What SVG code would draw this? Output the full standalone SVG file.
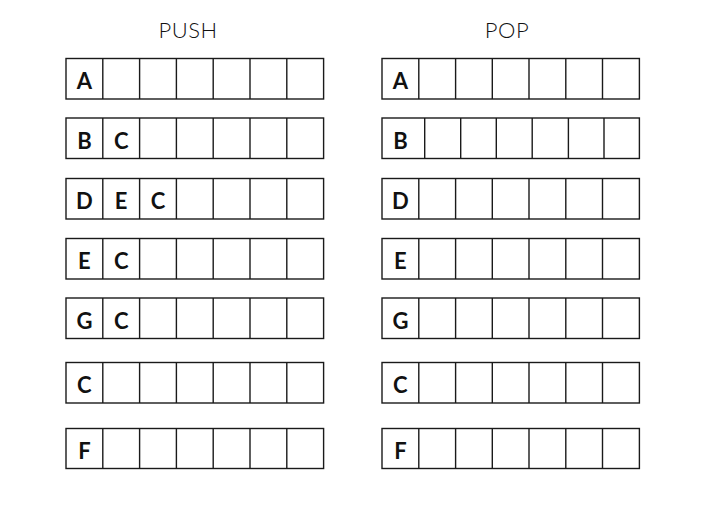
<svg xmlns="http://www.w3.org/2000/svg" width="721" height="523" viewBox="0 0 721 523">
<style>
.box{fill:#fff;stroke:#1a1a1a;stroke-width:1.4}
.div{fill:none;stroke:#1a1a1a;stroke-width:1.4}
.lbl{font-family:Lato,"Liberation Sans",sans-serif;font-weight:700;font-size:22px;fill:#111;text-anchor:middle}
.ttl{font-family:Lato,"Liberation Sans",sans-serif;font-weight:300;font-size:22px;fill:#111;text-anchor:middle;letter-spacing:0.5px}
</style>
<rect width="721" height="523" fill="#fff"/>
<text class="ttl" x="188" y="37.5">PUSH</text>
<text class="ttl" x="507" y="37.5">POP</text>
<g id="push">
<g id="push-1"><rect class="box" x="66" y="58.5" width="257.6" height="40.5"/><path class="div" d="M102.8 58.5V99M139.6 58.5V99M176.4 58.5V99M213.2 58.5V99M250 58.5V99M286.8 58.5V99"/><text class="lbl" x="84.4" y="89">A</text></g>
<g id="push-2"><rect class="box" x="66" y="118" width="257.6" height="40.5"/><path class="div" d="M102.8 118V158.5M139.6 118V158.5M176.4 118V158.5M213.2 118V158.5M250 118V158.5M286.8 118V158.5"/><text class="lbl" x="84.4" y="148.5">B</text><text class="lbl" x="121.2" y="148.5">C</text></g>
<g id="push-3"><rect class="box" x="66" y="178.5" width="257.6" height="40.5"/><path class="div" d="M102.8 178.5V219M139.6 178.5V219M176.4 178.5V219M213.2 178.5V219M250 178.5V219M286.8 178.5V219"/><text class="lbl" x="84.4" y="209">D</text><text class="lbl" x="121.2" y="209">E</text><text class="lbl" x="158" y="209">C</text></g>
<g id="push-4"><rect class="box" x="66" y="238.5" width="257.6" height="40.5"/><path class="div" d="M102.8 238.5V279M139.6 238.5V279M176.4 238.5V279M213.2 238.5V279M250 238.5V279M286.8 238.5V279"/><text class="lbl" x="84.4" y="269">E</text><text class="lbl" x="121.2" y="269">C</text></g>
<g id="push-5"><rect class="box" x="66" y="298" width="257.6" height="40.5"/><path class="div" d="M102.8 298V338.5M139.6 298V338.5M176.4 298V338.5M213.2 298V338.5M250 298V338.5M286.8 298V338.5"/><text class="lbl" x="84.4" y="328.5">G</text><text class="lbl" x="121.2" y="328.5">C</text></g>
<g id="push-6"><rect class="box" x="66" y="362.5" width="257.6" height="40.5"/><path class="div" d="M102.8 362.5V403M139.6 362.5V403M176.4 362.5V403M213.2 362.5V403M250 362.5V403M286.8 362.5V403"/><text class="lbl" x="84.4" y="393">C</text></g>
<g id="push-7"><rect class="box" x="66" y="428.5" width="257.6" height="40"/><path class="div" d="M102.8 428.5V468.5M139.6 428.5V468.5M176.4 428.5V468.5M213.2 428.5V468.5M250 428.5V468.5M286.8 428.5V468.5"/><text class="lbl" x="84.4" y="459">F</text></g>
</g>
<g id="pop">
<g id="pop-1"><rect class="box" x="382" y="58.5" width="257.4" height="40.5"/><path class="div" d="M418.8 58.5V99M455.6 58.5V99M492.3 58.5V99M529 58.5V99M565.8 58.5V99M602.5 58.5V99"/><text class="lbl" x="400.4" y="89">A</text></g>
<g id="pop-2"><rect class="box" x="382" y="118" width="257.4" height="40.5"/><path class="div" d="M424.7 118V158.5M460.7 118V158.5M496.3 118V158.5M532.2 118V158.5M568.4 118V158.5M604 118V158.5"/><text class="lbl" x="400.4" y="148.5">B</text></g>
<g id="pop-3"><rect class="box" x="382" y="178.5" width="257.4" height="40.5"/><path class="div" d="M418.8 178.5V219M455.6 178.5V219M492.3 178.5V219M529 178.5V219M565.8 178.5V219M602.5 178.5V219"/><text class="lbl" x="400.4" y="209">D</text></g>
<g id="pop-4"><rect class="box" x="382" y="238.5" width="257.4" height="40.5"/><path class="div" d="M418.8 238.5V279M455.6 238.5V279M492.3 238.5V279M529 238.5V279M565.8 238.5V279M602.5 238.5V279"/><text class="lbl" x="400.4" y="269">E</text></g>
<g id="pop-5"><rect class="box" x="382" y="298" width="257.4" height="40.5"/><path class="div" d="M418.8 298V338.5M455.6 298V338.5M492.3 298V338.5M529 298V338.5M565.8 298V338.5M602.5 298V338.5"/><text class="lbl" x="400.4" y="328.5">G</text></g>
<g id="pop-6"><rect class="box" x="382" y="362.5" width="257.4" height="40.5"/><path class="div" d="M418.8 362.5V403M455.6 362.5V403M492.3 362.5V403M529 362.5V403M565.8 362.5V403M602.5 362.5V403"/><text class="lbl" x="400.4" y="393">C</text></g>
<g id="pop-7"><rect class="box" x="382" y="428.5" width="257.4" height="40"/><path class="div" d="M418.8 428.5V468.5M455.6 428.5V468.5M492.3 428.5V468.5M529 428.5V468.5M565.8 428.5V468.5M602.5 428.5V468.5"/><text class="lbl" x="400.4" y="459">F</text></g>
</g>
</svg>
